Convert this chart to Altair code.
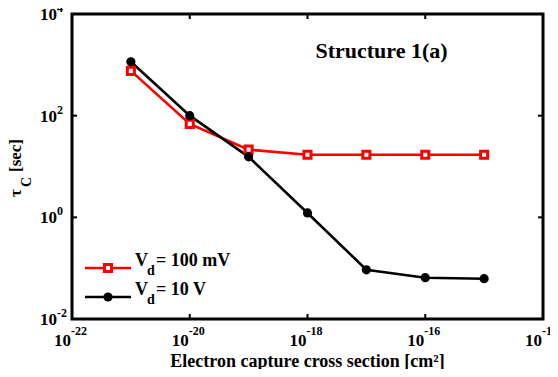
import altair as alt
import pandas as pd

# ---- data ----
sigma = [1e-21, 1e-20, 1e-19, 1e-18, 1e-17, 1e-16, 1e-15]
tau_100mV = [760, 69, 21.5, 17, 17, 17, 17]
tau_10V = [1150, 100, 15.5, 1.22, 0.093, 0.065, 0.062]
series_names = ["Vd = 100 mV", "Vd = 10 V"]
series_colors = ["#ff0000", "#000000"]
legend_texts = ["= 100 mV", "= 10 V"]
x_ticks = [1e-22, 1e-20, 1e-18, 1e-16, 1e-14]
x_exps = ["-22", "-20", "-18", "-16", "-14"]
y_ticks = [1e-2, 1e0, 1e2, 1e4]
y_exps = ["-2", "0", "2", "4"]
x_inner = [1e-20, 1e-18, 1e-16]
y_inner = [1e0, 1e2]
title_text = "Structure 1(a)"
x_title = "Electron capture cross section [cm²]"

W, H = 471, 305
FONT = "Liberation Serif"

df = pd.DataFrame({
    "sigma": sigma + sigma,
    "tau": tau_100mV + tau_10V,
    "series": [series_names[0]] * len(sigma) + [series_names[1]] * len(sigma),
})

xs = alt.Scale(type="log", domain=[1e-22, 1e-14], nice=False)
ys = alt.Scale(type="log", domain=[1e-2, 1e4], nice=False)
cs = alt.Scale(domain=series_names, range=series_colors)

X = alt.X("sigma:Q", scale=xs, axis=None)
Y = alt.Y("tau:Q", scale=ys, axis=None)

base = alt.Chart(df)
lines = base.mark_line(strokeWidth=2.6).encode(
    x=X, y=Y, color=alt.Color("series:N", scale=cs, legend=None), detail="series:N"
)
squares = base.transform_filter(alt.datum.series == series_names[0]).mark_point(
    shape="square", size=50, strokeWidth=3, fill="white", fillOpacity=1, stroke=series_colors[0], opacity=1
).encode(x=X, y=Y)
circles = base.transform_filter(alt.datum.series == series_names[1]).mark_circle(
    size=85, color="black", opacity=1
).encode(x=X, y=Y)

# inward ticks
xt = alt.Chart(pd.DataFrame({"v": x_inner}))
yt = alt.Chart(pd.DataFrame({"v": y_inner}))
XV = alt.X("v:Q", scale=xs, axis=None)
YV = alt.Y("v:Q", scale=ys, axis=None)
tick_b = xt.mark_rule(strokeWidth=2, color="black").encode(x=XV, y=alt.value(H), y2=alt.value(H - 5))
tick_t = xt.mark_rule(strokeWidth=2, color="black").encode(x=XV, y=alt.value(0), y2=alt.value(5))
tick_l = yt.mark_rule(strokeWidth=2, color="black").encode(y=YV, x=alt.value(0), x2=alt.value(5))
tick_r = yt.mark_rule(strokeWidth=2, color="black").encode(y=YV, x=alt.value(W), x2=alt.value(W - 5))

# tick labels
xl = alt.Chart(pd.DataFrame({"v": x_ticks, "e": x_exps}))
yl = alt.Chart(pd.DataFrame({"v": y_ticks, "e": y_exps}))
txt = dict(font=FONT, fontWeight="bold", color="black")
xlab_base = xl.mark_text(text="10", align="right", baseline="alphabetic", fontSize=17, dx=-1, **txt).encode(
    x=XV, y=alt.value(H + 27))
xlab_exp = xl.mark_text(align="left", baseline="alphabetic", fontSize=12, dx=-1, **txt).encode(
    x=XV, y=alt.value(H + 16), text="e:N")
ylab_base = yl.mark_text(text="10", align="right", baseline="alphabetic", fontSize=17, dy=6, **txt).encode(
    x=alt.value(-15), y=YV)
ylab_exp = yl.mark_text(align="left", baseline="alphabetic", fontSize=12, dy=-2, **txt).encode(
    x=alt.value(-15), y=YV, text="e:N")

# annotation title
title = alt.Chart(pd.DataFrame({"t": [title_text]})).mark_text(
    align="center", baseline="alphabetic", fontSize=22, **txt
).encode(x=alt.value(309.5), y=alt.value(44), text="t:N")

# axis titles
xtitle = alt.Chart(pd.DataFrame({"t": [x_title]})).mark_text(
    align="center", baseline="alphabetic", fontSize=18, **txt
).encode(x=alt.value(W / 2), y=alt.value(H + 48), text="t:N")
ytitle_tau = alt.Chart(pd.DataFrame({"t": ["τ"]})).mark_text(
    align="left", baseline="alphabetic", angle=270, fontSize=17, **txt
).encode(x=alt.value(-51), y=alt.value(183), text="t:N")
ytitle_c = alt.Chart(pd.DataFrame({"t": ["C"]})).mark_text(
    align="left", baseline="alphabetic", angle=270, fontSize=14, **txt
).encode(x=alt.value(-41), y=alt.value(173), text="t:N")
ytitle_sec = alt.Chart(pd.DataFrame({"t": ["[sec]"]})).mark_text(
    align="left", baseline="alphabetic", angle=270, fontSize=17, **txt
).encode(x=alt.value(-51), y=alt.value(158), text="t:N")

# manual legend
leg_layers = []
for i, (col, lab) in enumerate(zip(series_colors, legend_texts)):
    yy = 254 + 29 * i
    d = alt.Chart(pd.DataFrame({"t": [lab]}))
    leg_layers.append(d.mark_rule(strokeWidth=2.6, color=col).encode(
        x=alt.value(13), x2=alt.value(59), y=alt.value(yy)))
    if i == 0:
        leg_layers.append(d.mark_point(shape="square", size=50, strokeWidth=3, fill="white",
                                       fillOpacity=1, stroke=col, opacity=1).encode(
            x=alt.value(36), y=alt.value(yy)))
    else:
        leg_layers.append(d.mark_circle(size=85, color=col, opacity=1).encode(
            x=alt.value(36), y=alt.value(yy)))
    leg_layers.append(d.mark_text(text="V", align="left", baseline="alphabetic", fontSize=18, **txt).encode(
        x=alt.value(63), y=alt.value(yy - 2)))
    leg_layers.append(d.mark_text(text="d", align="left", baseline="alphabetic", fontSize=14, **txt).encode(
        x=alt.value(75), y=alt.value(yy + 7)))
    leg_layers.append(d.mark_text(align="left", baseline="alphabetic", fontSize=18, **txt).encode(
        x=alt.value(84), y=alt.value(yy - 2), text="t:N"))

chart = alt.layer(
    lines, squares, circles,
    tick_b, tick_t, tick_l, tick_r,
    xlab_base, xlab_exp, ylab_base, ylab_exp,
    title, xtitle, ytitle_tau, ytitle_c, ytitle_sec,
    *leg_layers,
).properties(
    width=W, height=H,
    autosize=alt.AutoSizeParams(type="none"),
    padding={"left": 64, "top": 6, "right": 7, "bottom": 50},
    background="white",
).configure_view(stroke="black", strokeWidth=3)

chart.save("out.html", embed_options={"renderer": "svg", "actions": False})
